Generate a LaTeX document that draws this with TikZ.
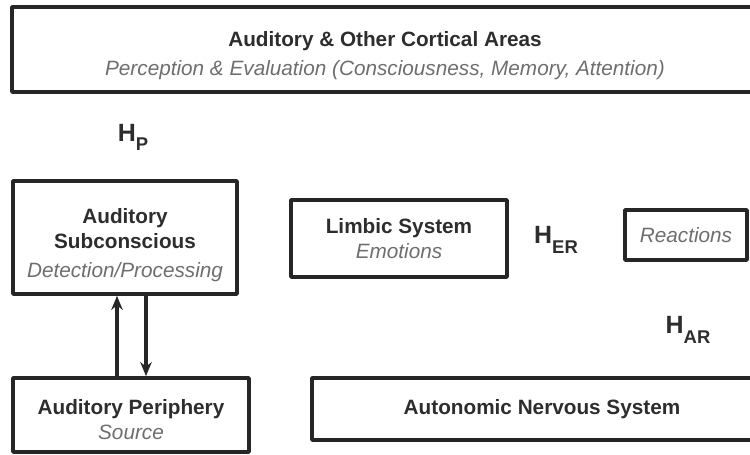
\documentclass[tikz,border=0pt]{standalone}
\usepackage{fontspec}
\usetikzlibrary{arrows.meta}
\setmainfont{Liberation Sans}
\definecolor{txtgray}{RGB}{110,110,110}
\definecolor{txtdark}{RGB}{45,45,45}
\newcommand{\hsub}[1]{{\fontsize{14.2}{16}\selectfont\bfseries H\raisebox{-5.5pt}{\fontsize{10.5}{12}\selectfont #1}}}
\begin{document}
\begin{tikzpicture}[line join=round, >={Stealth[length=8pt,width=6.5pt]},
  font=\fontsize{11.8}{14.5}\selectfont,
  blk/.style={draw=black!85, line width=2.1pt, align=center, text=txtdark, inner sep=0pt},
  flow/.style={->, line width=1.8pt, draw=black!85}]
\useasboundingbox (0,0) rectangle (15,9.1);
\clip (0,0) rectangle (15,9.1);
% boxes
\node[blk, minimum width=14.92cm, minimum height=1.7cm] (cortex) at (7.7,8.11)
  {\rule{0pt}{16pt}\bfseries Auditory \& Other Cortical Areas\\[2pt] {\itshape\color{txtgray} Perception \& Evaluation (Consciousness, Memory, Attention)}};
\node[blk, minimum width=4.48cm, minimum height=2.26cm] (subc) at (2.5,4.35)
  {\rule{0pt}{17pt}\bfseries Auditory\\ \bfseries Subconscious\\[2pt] {\itshape\color{txtgray} Detection/Processing}};
\node[blk, minimum width=4.32cm, minimum height=1.54cm] (limbic) at (7.98,4.33)
  {\bfseries Limbic System\\ {\itshape\color{txtgray} Emotions}};
\node[blk, minimum width=2.44cm, minimum height=1.0cm] (react) at (13.72,4.4)
  {\itshape\color{txtgray} Reactions};
\node[blk, minimum width=4.72cm, minimum height=1.48cm] (periph) at (2.62,0.8)
  {\rule{0pt}{14pt}\bfseries Auditory Periphery\\ {\itshape\color{txtgray} Source}};
\node[blk, minimum width=9.2cm, minimum height=1.24cm] (ans) at (10.84,0.92)
  {\bfseries Autonomic Nervous System};
% labels
\node[text=txtdark] (hp) at (2.66,6.35) {\hsub{P}};
\node[text=txtdark] (her) at (11.12,4.3) {\hsub{ER}};
\node[text=txtdark] (har) at (13.76,2.5) {\hsub{AR}};
% arrows
\draw[flow] ([xshift=-0.28cm]periph.north) -- ([xshift=-0.28cm]periph.north |- subc.south);
\draw[flow] ([xshift=0.3cm]periph.north |- subc.south) -- ([xshift=0.3cm]periph.north);
\end{tikzpicture}
\end{document}
